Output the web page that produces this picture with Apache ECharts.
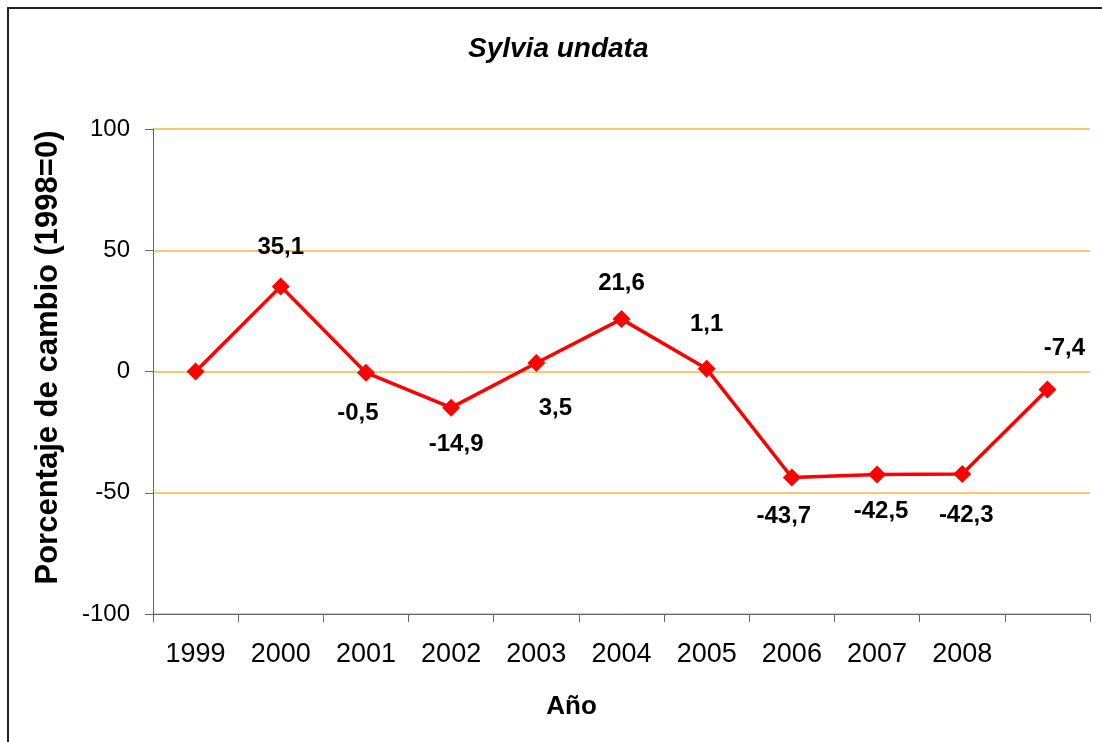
<!DOCTYPE html>
<html>
<head>
<meta charset="utf-8">
<title>Sylvia undata</title>
<script src="https://cdn.jsdelivr.net/npm/echarts@6/dist/echarts.min.js"></script>
<style>
  html, body { margin: 0; padding: 0; background: #fff; }
  #chart { width: 1102px; height: 742px; }
</style>
</head>
<body>
<div id="chart"></div>
<script>
// Categories on the x axis (the last slot carries no year label)
const years = ['1999', '2000', '2001', '2002', '2003', '2004', '2005', '2006', '2007', '2008', ''];
// Percentage change relative to 1998
const change = [0, 35.1, -0.5, -14.9, 3.5, 21.6, 1.1, -43.7, -42.5, -42.3, -7.4];
// Which points carry a value label
const showLabel = [false, true, true, true, true, true, true, true, true, true, true];
// Y axis ticks
const yTicks = [-100, -50, 0, 50, 100];

// Label placement around each marker, [dx, dy] from the marker centre
const labelOffsets = [
  [0, 0], [0, -39], [-8, 41], [5, 37], [19, 45], [0, -36],
  [0, -44], [-8, 39], [4, 37], [4, 41], [17, -41]
];

const FONT = '"Liberation Sans", Arial, Helvetica, sans-serif';

const seriesData = change.map((v, i) => ({
  value: v,
  label: {
    show: showLabel[i],
    position: 'inside',
    offset: labelOffsets[i]
  }
}));

const chart = echarts.init(document.getElementById('chart'), null, { renderer: 'canvas' });

chart.setOption({
  backgroundColor: '#ffffff',
  animation: false,
  title: {
    text: 'Sylvia undata',
    left: 463,
    top: 30,
    textStyle: {
      fontFamily: FONT,
      fontSize: 28,
      fontWeight: 'bold',
      fontStyle: 'italic',
      color: '#000'
    }
  },
  graphic: [{
    type: 'rect',
    shape: { x: 8, y: 8, width: 1200, height: 1000 },
    style: { fill: 'none', stroke: '#222', lineWidth: 2 },
    silent: true,
    z: 100
  }],
  grid: { left: 153, right: 12, top: 129, bottom: 128, containLabel: false },
  xAxis: {
    type: 'category',
    data: years,
    boundaryGap: true,
    name: 'Año',
    nameLocation: 'middle',
    nameGap: 80,
    nameTextStyle: {
      fontFamily: FONT, fontSize: 26, fontWeight: 'bold', color: '#000',
      padding: [0, 100, 0, 0]
    },
    axisLine: { onZero: false, lineStyle: { color: '#666', width: 1 } },
    axisTick: { show: true, alignWithLabel: false, length: 8, lineStyle: { color: '#666' } },
    axisLabel: { interval: 0, margin: 27, fontFamily: FONT, fontSize: 27, color: '#000' },
    splitLine: { show: false }
  },
  yAxis: {
    type: 'value',
    min: yTicks[0],
    max: yTicks[yTicks.length - 1],
    interval: yTicks[1] - yTicks[0],
    name: 'Porcentaje de cambio (1998=0)',
    nameLocation: 'middle',
    nameRotate: 90,
    nameGap: 89,
    nameTextStyle: {
      fontFamily: FONT, fontSize: 31, fontWeight: 'bold', color: '#000',
      padding: [0, 0, 0, 28]
    },
    axisLine: { show: true, lineStyle: { color: '#666', width: 1 } },
    axisTick: { show: true, length: 8, lineStyle: { color: '#666' } },
    axisLabel: { margin: 23, fontFamily: FONT, fontSize: 24, color: '#000' },
    splitLine: { show: true, lineStyle: { color: '#FFB340', width: 1.5 } }
  },
  series: [{
    type: 'line',
    data: seriesData,
    symbol: 'diamond',
    symbolSize: 18,
    itemStyle: { color: '#FF0000' },
    lineStyle: { color: '#FF0000', width: 3.5 },
    label: {
      fontFamily: FONT,
      fontSize: 24,
      fontWeight: 'bold',
      color: '#000',
      formatter: p => String(p.value).replace('.', ',')
    },
    emphasis: { disabled: true },
    z: 3
  }]
});
</script>
</body>
</html>
